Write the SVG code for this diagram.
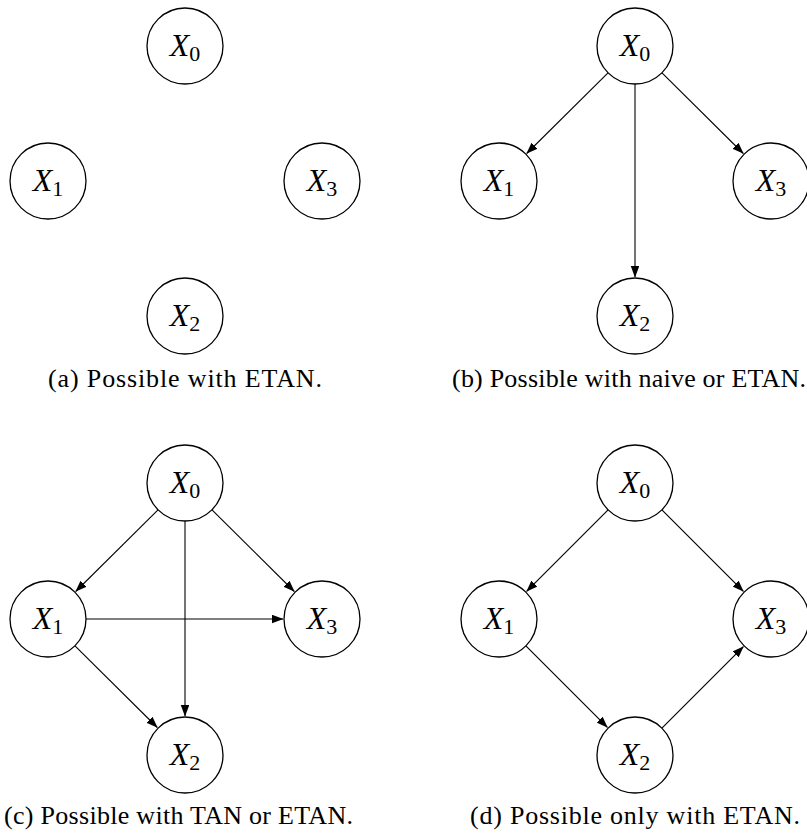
<svg xmlns="http://www.w3.org/2000/svg" width="807" height="833" viewBox="0 0 807 833">
  <style>
    .node circle { fill: #fff; stroke: #000; stroke-width: 1.3; }
    text { font-family: 'Liberation Serif', 'Times New Roman', 'Noto Serif', 'DejaVu Serif', serif; fill: #000; }
    .lbl { font-size: 32px; }
    .lbl .v { font-style: italic; }
    .lbl .s { font-size: 22px; }
    .edge { stroke: #000; stroke-width: 1.1; fill: none; marker-end: url(#tip); }
    .cap { font-size: 26px; }
  </style>
  <defs>
    <marker id="tip" markerUnits="userSpaceOnUse" markerWidth="12" markerHeight="9" refX="11" refY="4.25" orient="auto">
      <path d="M0,0 L11.5,4.25 L0,8.5 Z" fill="#000"/>
    </marker>
  </defs>
  <rect width="807" height="833" fill="#fff"/>

  <!-- connectors -->
  <g id="connectors">
    <!-- (b) naive -->
    <line class="edge" x1="608.0" y1="72.8" x2="526.7" y2="153.5"/>
    <line class="edge" x1="662.0" y1="72.8" x2="743.3" y2="153.5"/>
    <line class="edge" x1="635" y1="84" x2="635" y2="277"/>
    <!-- (c) TAN -->
    <line class="edge" x1="158.0" y1="509.8" x2="75.7" y2="591.5"/>
    <line class="edge" x1="212.0" y1="509.8" x2="294.3" y2="591.5"/>
    <line class="edge" x1="185" y1="521" x2="185" y2="716"/>
    <line class="edge" x1="86" y1="619" x2="283" y2="619"/>
    <line class="edge" x1="75.0" y1="645.8" x2="157.3" y2="727.5"/>
    <!-- (d) ETAN only -->
    <line class="edge" x1="608.1" y1="509.9" x2="526.6" y2="591.4"/>
    <line class="edge" x1="661.9" y1="509.9" x2="743.4" y2="591.4"/>
    <line class="edge" x1="525.9" y1="645.9" x2="607.4" y2="727.4"/>
    <line class="edge" x1="661.9" y1="728.1" x2="743.4" y2="646.6"/>
  </g>

  <!-- panel (a) -->
  <g id="a-x0" class="node"><circle cx="185" cy="46" r="38"/><text class="lbl" x="185" y="56" text-anchor="middle"><tspan class="v">X</tspan><tspan class="s" dy="5">0</tspan></text></g>
  <g id="a-x1" class="node"><circle cx="48" cy="181" r="38"/><text class="lbl" x="48" y="191" text-anchor="middle"><tspan class="v">X</tspan><tspan class="s" dy="5">1</tspan></text></g>
  <g id="a-x3" class="node"><circle cx="322" cy="181" r="38"/><text class="lbl" x="322" y="191" text-anchor="middle"><tspan class="v">X</tspan><tspan class="s" dy="5">3</tspan></text></g>
  <g id="a-x2" class="node"><circle cx="185" cy="316" r="38"/><text class="lbl" x="185" y="326" text-anchor="middle"><tspan class="v">X</tspan><tspan class="s" dy="5">2</tspan></text></g>
  <text class="cap" x="48" y="387" textLength="274" lengthAdjust="spacing">(a) Possible with ETAN.</text>

  <!-- panel (b) -->
  <g id="b-x0" class="node"><circle cx="635" cy="46" r="38"/><text class="lbl" x="635" y="56" text-anchor="middle"><tspan class="v">X</tspan><tspan class="s" dy="5">0</tspan></text></g>
  <g id="b-x1" class="node"><circle cx="499" cy="181" r="38"/><text class="lbl" x="499" y="191" text-anchor="middle"><tspan class="v">X</tspan><tspan class="s" dy="5">1</tspan></text></g>
  <g id="b-x3" class="node"><circle cx="771" cy="181" r="38"/><text class="lbl" x="771" y="191" text-anchor="middle"><tspan class="v">X</tspan><tspan class="s" dy="5">3</tspan></text></g>
  <g id="b-x2" class="node"><circle cx="635" cy="316" r="38"/><text class="lbl" x="635" y="326" text-anchor="middle"><tspan class="v">X</tspan><tspan class="s" dy="5">2</tspan></text></g>
  <text class="cap" x="452" y="387" textLength="354" lengthAdjust="spacing">(b) Possible with naive or ETAN.</text>

  <!-- panel (c) -->
  <g id="c-x0" class="node"><circle cx="185" cy="483" r="38"/><text class="lbl" x="185" y="493" text-anchor="middle"><tspan class="v">X</tspan><tspan class="s" dy="5">0</tspan></text></g>
  <g id="c-x1" class="node"><circle cx="48" cy="619" r="38"/><text class="lbl" x="48" y="629" text-anchor="middle"><tspan class="v">X</tspan><tspan class="s" dy="5">1</tspan></text></g>
  <g id="c-x3" class="node"><circle cx="322" cy="619" r="38"/><text class="lbl" x="322" y="629" text-anchor="middle"><tspan class="v">X</tspan><tspan class="s" dy="5">3</tspan></text></g>
  <g id="c-x2" class="node"><circle cx="185" cy="755" r="38"/><text class="lbl" x="185" y="765" text-anchor="middle"><tspan class="v">X</tspan><tspan class="s" dy="5">2</tspan></text></g>
  <text class="cap" x="4" y="824" textLength="349" lengthAdjust="spacing">(c) Possible with TAN or ETAN.</text>

  <!-- panel (d) -->
  <g id="d-x0" class="node"><circle cx="635" cy="483" r="38"/><text class="lbl" x="635" y="493" text-anchor="middle"><tspan class="v">X</tspan><tspan class="s" dy="5">0</tspan></text></g>
  <g id="d-x1" class="node"><circle cx="499" cy="619" r="38"/><text class="lbl" x="499" y="629" text-anchor="middle"><tspan class="v">X</tspan><tspan class="s" dy="5">1</tspan></text></g>
  <g id="d-x3" class="node"><circle cx="771" cy="619" r="38"/><text class="lbl" x="771" y="629" text-anchor="middle"><tspan class="v">X</tspan><tspan class="s" dy="5">3</tspan></text></g>
  <g id="d-x2" class="node"><circle cx="635" cy="755" r="38"/><text class="lbl" x="635" y="765" text-anchor="middle"><tspan class="v">X</tspan><tspan class="s" dy="5">2</tspan></text></g>
  <text class="cap" x="470" y="824" textLength="330" lengthAdjust="spacing">(d) Possible only with ETAN.</text>
</svg>
